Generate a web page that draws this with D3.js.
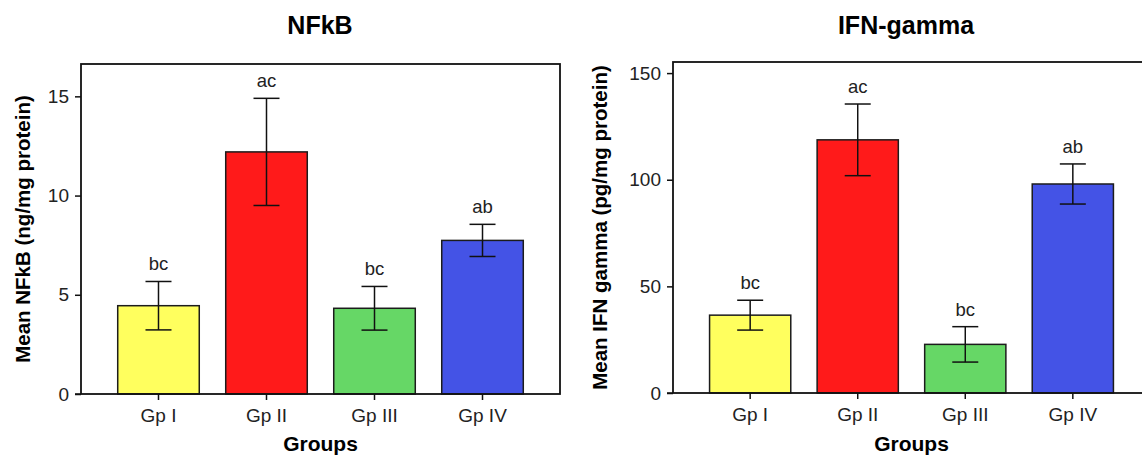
<!DOCTYPE html>
<html lang="en">
	<head>
		<meta charset="utf-8">
		<title>NFkB and IFN-gamma</title>
		<script src="https://d3js.org/d3.v7.min.js"></script>
		<style type="text/css">
            body { margin: 0; background: #fff; }
            svg { display: block; font-family: "Liberation Sans", Arial, sans-serif; }
		</style>
	</head>
	<body>
        <svg></svg>
		<script type="text/javascript">

			// data
			const groups = ["Gp I", "Gp II", "Gp III", "Gp IV"];
			const barColors = ["#ffff5e", "#ff1a1a", "#66d766", "#4453e6"];

			const nfkbMean = [4.45, 12.2, 4.32, 7.74];
			const nfkbErr = [1.22, 2.7, 1.1, 0.81];
			const nfkbLetters = ["bc", "ac", "bc", "ab"];
			const nfkbTicks = [0, 5, 10, 15];

			const ifnMean = [36.5, 118.7, 22.8, 98.0];
			const ifnErr = [7.0, 16.8, 8.3, 9.4];
			const ifnLetters = ["bc", "ac", "bc", "ab"];
			const ifnTicks = [0, 50, 100, 150];

			var w = 1142;
			var h = 455;

			var svg = d3.select("svg")
						.attr("width", w)
						.attr("height", h);

			function drawPanel(p) {
				var x = d3.scaleBand()
					.domain(groups)
					.range([p.left, p.right])
					.paddingInner(0.245)
					.paddingOuter(0.34);
				var y = d3.scaleLinear()
					.domain(p.domain)
					.range([p.bottom, p.top]);

				var g = svg.append("g");

				// bars
				g.selectAll("rect.bar")
					.data(groups)
					.enter()
					.append("rect")
					.attr("class", "bar")
					.attr("x", d => x(d))
					.attr("width", x.bandwidth())
					.attr("y", (d, i) => y(p.mean[i]))
					.attr("height", (d, i) => y(0) - y(p.mean[i]))
					.attr("fill", (d, i) => barColors[i])
					.attr("stroke", "#1c1c1c")
					.attr("stroke-width", 1.5);

				// error bars
				var cx = d => x(d) + x.bandwidth() / 2;
				var eb = g.selectAll("g.err")
					.data(groups)
					.enter()
					.append("g")
					.attr("stroke", "#111")
					.attr("stroke-width", 1.5);
				eb.append("line")
					.attr("x1", cx).attr("x2", cx)
					.attr("y1", (d, i) => y(p.mean[i] + p.err[i]))
					.attr("y2", (d, i) => y(p.mean[i] - p.err[i]));
				eb.append("line")
					.attr("x1", d => cx(d) - 13).attr("x2", d => cx(d) + 13)
					.attr("y1", (d, i) => y(p.mean[i] + p.err[i]))
					.attr("y2", (d, i) => y(p.mean[i] + p.err[i]));
				eb.append("line")
					.attr("x1", d => cx(d) - 13).attr("x2", d => cx(d) + 13)
					.attr("y1", (d, i) => y(p.mean[i] - p.err[i]))
					.attr("y2", (d, i) => y(p.mean[i] - p.err[i]));

				// significance letters
				g.selectAll("text.letter")
					.data(groups)
					.enter()
					.append("text")
					.attr("x", cx)
					.attr("y", (d, i) => y(p.mean[i] + p.err[i]) - 11)
					.attr("text-anchor", "middle")
					.attr("font-size", 18.5)
					.attr("fill", "#222")
					.text((d, i) => p.letters[i]);

				// axes
				var yAxis = g.append("g")
					.attr("transform", `translate(${p.left},0)`)
					.call(d3.axisLeft(y).tickValues(p.ticks).tickSize(6).tickPadding(6));
				var xAxis = g.append("g")
					.attr("transform", `translate(0,${p.bottom})`)
					.call(d3.axisBottom(x).tickSize(6).tickPadding(5));
				[yAxis, xAxis].forEach(a => {
					a.select(".domain").remove();
					a.selectAll("line").attr("stroke", "#111").attr("stroke-width", 1.5);
					a.selectAll("text").attr("font-size", 19).attr("fill", "#222")
						.attr("font-family", "Liberation Sans, Arial, sans-serif");
				});
				xAxis.selectAll("text").attr("dy", "0.92em");

				// frame
				g.append("rect")
					.attr("x", p.left)
					.attr("y", p.top)
					.attr("width", p.right - p.left)
					.attr("height", p.bottom - p.top)
					.attr("fill", "none")
					.attr("stroke", "#111")
					.attr("stroke-width", 1.8);
				g.append("line")
					.attr("x1", p.left - 6).attr("x2", p.left)
					.attr("y1", p.bottom).attr("y2", p.bottom)
					.attr("stroke", "#111").attr("stroke-width", 1.5);

				// titles
				var mid = (p.left + p.right) / 2;
				svg.append("text")
					.attr("x", p.titleX)
					.attr("y", 34)
					.attr("text-anchor", "middle")
					.attr("font-size", 25)
					.attr("font-weight", "bold")
					.text(p.title);
				svg.append("text")
					.attr("x", mid)
					.attr("y", 451)
					.attr("text-anchor", "middle")
					.attr("font-size", 21)
					.attr("font-weight", "bold")
					.text("Groups");
				svg.append("text")
					.attr("transform", `translate(${p.labelX},${(p.top + p.bottom) / 2}) rotate(-90)`)
					.attr("text-anchor", "middle")
					.attr("font-size", p.labelSize)
					.attr("font-weight", "bold")
					.text(p.yLabel);
			}

			drawPanel({
				left: 81, right: 560, top: 64, bottom: 394,
				domain: [0, 16.63], ticks: nfkbTicks,
				mean: nfkbMean, err: nfkbErr, letters: nfkbLetters,
				title: "NFkB", titleX: 320,
				yLabel: "Mean NFkB (ng/mg protein)", labelX: 30, labelSize: 20.5
			});

			drawPanel({
				left: 673, right: 1150, top: 62, bottom: 393,
				domain: [0, 155.2], ticks: ifnTicks,
				mean: ifnMean, err: ifnErr, letters: ifnLetters,
				title: "IFN-gamma", titleX: 906,
				yLabel: "Mean IFN gamma (pg/mg protein)", labelX: 607, labelSize: 20.5
			});

		</script>
	</body>
</html>
